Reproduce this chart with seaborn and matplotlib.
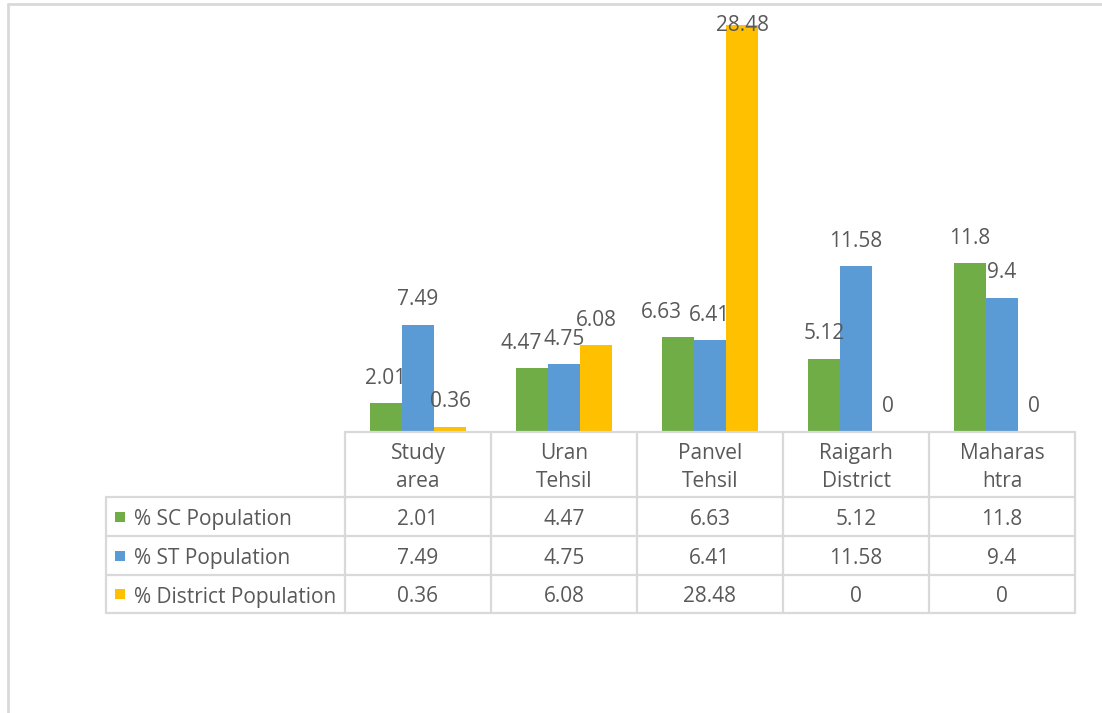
import matplotlib
matplotlib.use("Agg")
import matplotlib.pyplot as plt
import pandas as pd
import seaborn as sns
from matplotlib.lines import Line2D
from matplotlib.patches import Rectangle

# ---- data -------------------------------------------------------------
categories = ["Study\narea", "Uran\nTehsil", "Panvel\nTehsil", "Raigarh\nDistrict", "Maharas\nhtra"]
series_names = ["% SC Population", "% ST Population", "% District Population"]
sc_values = [2.01, 4.47, 6.63, 5.12, 11.8]
st_values = [7.49, 4.75, 6.41, 11.58, 9.4]
district_values = [0.36, 6.08, 28.48, 0, 0]
series_values = [sc_values, st_values, district_values]
colors = ["#70AD47", "#5B9BD5", "#FFC000"]

rows = []
for name, vals in zip(series_names, series_values):
    for cat, v in zip(categories, vals):
        rows.append({"category": cat, "series": name, "value": v})
df = pd.DataFrame(rows)

# ---- style ------------------------------------------------------------
sns.set_style("white")
plt.rcParams["font.family"] = ["Open Sans", "DejaVu Sans"]
TEXT = "#595959"
GRID = "#D9D9D9"
FS = 15

W, H = 1102, 713
fig = plt.figure(figsize=(W / 100, H / 100), dpi=100)


def fx(px):
    return px / W


def fy(py):
    return 1 - py / H


ax = fig.add_axes([fx(345), fy(432), fx(1075) - fx(345), fy(3) - fy(432)])
sns.barplot(
    data=df, x="category", y="value", hue="series",
    order=categories, hue_order=series_names, palette=colors,
    width=0.66, saturation=1, linewidth=0, errorbar=None,
    legend=False, ax=ax,
)
ymax = 30
ax.set_ylim(0, ymax)
ax.set_xlim(-0.5, len(categories) - 0.5)
ax.axis("off")

# horizontal nudges (points) for labels that would collide with a neighbour
label_nudge = {(0, 1): -8, (0, 2): -12}

# value labels above each bar (kept inside the plot area)
for s, (container, vals) in enumerate(zip(ax.containers, series_values)):
    for c, (patch, v) in enumerate(zip(container, vals)):
        xc = patch.get_x() + patch.get_width() / 2
        y = min(v + 1.75, ymax - 1.55)
        ax.annotate(f"{v:g}", (xc, y), xytext=(label_nudge.get((s, c), 0), 0),
                    textcoords="offset points", ha="center", va="center",
                    fontsize=FS, color=TEXT, annotation_clip=False)

# ---- data table beneath the bars -------------------------------------
fig.canvas.draw()
col_edges = [ax.transData.transform((i - 0.5, 0))[0] / W for i in range(len(categories) + 1)]
label_left = fx(106)
y_head_top, y_head_bot = fy(432), fy(497)
row_edges = [fy(497), fy(536), fy(575), fy(613)]
text_drop = 3 / H  # optical centring of text inside cells


def hline(x0, x1, y):
    fig.add_artist(Line2D([x0, x1], [y, y], transform=fig.transFigure, color=GRID, lw=1.6))


def vline(x, y0, y1):
    fig.add_artist(Line2D([x, x], [y0, y1], transform=fig.transFigure, color=GRID, lw=1.6))


hline(col_edges[0], col_edges[-1], y_head_top)
for y in row_edges:
    hline(label_left, col_edges[-1], y)
for x in col_edges:
    vline(x, y_head_top, row_edges[-1])
vline(label_left, row_edges[0], row_edges[-1])

# header cells
for i, cat in enumerate(categories):
    xc = (col_edges[i] + col_edges[i + 1]) / 2
    fig.text(xc, (y_head_top + y_head_bot) / 2 - text_drop, cat, ha="center", va="center",
             fontsize=FS, color=TEXT, linespacing=1.45)

# series rows
for r, (name, vals, c) in enumerate(zip(series_names, series_values, colors)):
    yc = (row_edges[r] + row_edges[r + 1]) / 2
    fig.add_artist(Rectangle((fx(115), yc - 5 / H), 10 / W, 10 / H,
                             transform=fig.transFigure, color=c, lw=0))
    fig.text(fx(134), yc - text_drop, name, ha="left", va="center", fontsize=FS, color=TEXT)
    for i, v in enumerate(vals):
        xc = (col_edges[i] + col_edges[i + 1]) / 2
        fig.text(xc, yc - text_drop, f"{v:g}", ha="center", va="center", fontsize=FS, color=TEXT)

# chart frame
fig.add_artist(Line2D([fx(8), fx(8)], [fy(4), 0], transform=fig.transFigure, color=GRID, lw=2))
fig.add_artist(Line2D([fx(8), 1], [fy(4), fy(4)], transform=fig.transFigure, color=GRID, lw=2))

fig.savefig("out.png", dpi=100)
